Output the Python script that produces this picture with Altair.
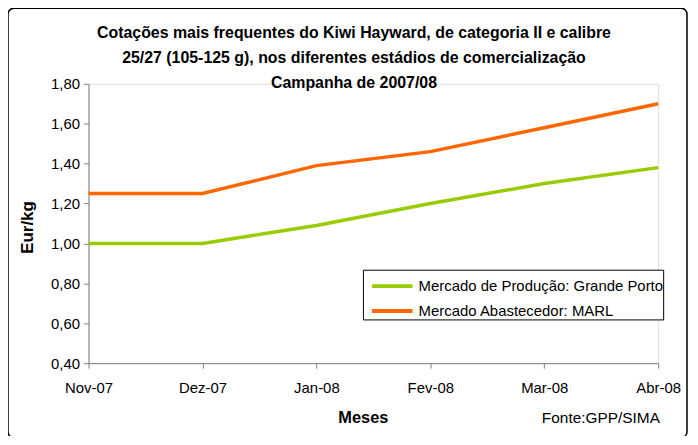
import altair as alt
import pandas as pd

months = ["Nov-07", "Dez-07", "Jan-08", "Fev-08", "Mar-08", "Abr-08"]
producao = [1.00, 1.00, 1.09, 1.20, 1.30, 1.38]
abastecedor = [1.25, 1.25, 1.39, 1.46, 1.58, 1.70]
series_names = ["Mercado de Produção: Grande Porto", "Mercado Abastecedor: MARL"]
series_colors = ["#99CC00", "#FF6600"]
y_ticks = [0.4, 0.6, 0.8, 1.0, 1.2, 1.4, 1.6, 1.8]
title_lines = [
    "Cotações mais frequentes do Kiwi Hayward, de categoria II e calibre",
    "25/27 (105-125 g), nos diferentes estádios de comercialização",
    "Campanha de 2007/08",
]
source_text = "Fonte:GPP/SIMA"

rows = []
for name, vals in zip(series_names, [producao, abastecedor]):
    for m, v in zip(months, vals):
        rows.append({"Mês": m, "Valor": v, "Série": name})
df = pd.DataFrame(rows)

FONT = "Liberation Sans"

lines = alt.Chart(df).mark_line(strokeWidth=3.5, clip=False).encode(
    x=alt.X("Mês:N", sort=months,
            scale=alt.Scale(type="point", padding=0),
            axis=alt.Axis(title="Meses", labelAngle=0, labelFontSize=15, labelColor="black",
                          labelFont=FONT, labelPadding=12, tickSize=5, tickColor="#808080",
                          domainColor="#808080", titleFont=FONT, titleFontSize=16.5,
                          titleFontWeight="bold", titleColor="black",
                          titleX=276, titleY=55, titleBaseline="middle", grid=False)),
    y=alt.Y("Valor:Q", scale=alt.Scale(domain=[0.4, 1.8], nice=False, zero=False),
            axis=alt.Axis(title="Eur/kg", values=y_ticks,
                          labelExpr="replace(format(datum.value, '.2f'), '.', ',')",
                          labelFontSize=15, labelColor="black", labelFont=FONT,
                          labelPadding=4, tickSize=5, tickColor="#808080",
                          domainColor="#808080", titleFont=FONT, titleFontSize=17,
                          titleFontWeight="bold", titleColor="black",
                          titleX=-61, titleY=144, titleBaseline="middle", grid=False)),
    color=alt.Color("Série:N",
                    scale=alt.Scale(domain=series_names, range=series_colors),
                    legend=alt.Legend(title=None, orient="none", legendX=276, legendY=187,
                                      strokeColor="black", fillColor="white", padding=0,
                                      symbolType="M-0.5,0H2.3", symbolSize=841,
                                      symbolStrokeWidth=4, symbolFillColor="transparent",
                                      labelFontSize=15, labelFont=FONT, labelColor="black",
                                      rowPadding=0, labelOffset=23, labelLimit=400,
                                      cornerRadius=0)),
)

border = alt.Chart(pd.DataFrame({"k": [0]})).mark_rect(
    fill=None, stroke="black", strokeWidth=1.5, cornerRadius=6, clip=False
).encode(x=alt.value(-81), x2=alt.value(602), y=alt.value(-76), y2=alt.value(356))

title = alt.Chart(pd.DataFrame({"t": [title_lines]})).mark_text(
    align="center", baseline="top", fontSize=16, font=FONT, fontWeight="bold",
    color="black", lineHeight=25, clip=False
).encode(text="t", x=alt.value(267), y=alt.value(-59))

source = alt.Chart(pd.DataFrame({"t": [source_text]})).mark_text(
    align="left", baseline="middle", fontSize=15.5, font=FONT, color="black", clip=False
).encode(text="t:N", x=alt.value(456), y=alt.value(336))

chart = alt.layer(border, lines, title, source).properties(
    width=573, height=281,
    autosize=alt.AutoSizeParams(type="none"),
    padding={"left": 81, "top": 75, "right": 32, "bottom": 72},
).configure_view(stroke=None).configure(background="white")

chart.save("out.html", embed_options={"renderer": "svg", "actions": False})
